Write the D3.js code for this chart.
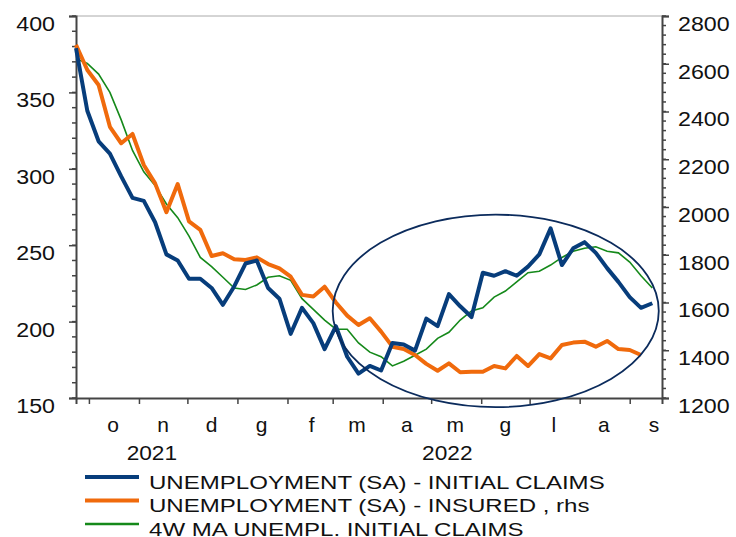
<!DOCTYPE html>
<html>
<head>
<meta charset="utf-8">
<script src="https://cdn.jsdelivr.net/npm/d3@7"></script>
<style>
  body { margin: 0; background: #fff; }
  svg text { font-family: "Liberation Sans", Arial, sans-serif; fill: #111; }
</style>
</head>
<body>
<svg id="chart" width="736" height="537"></svg>
<script>
// weekly observations, first week
const startDate = new Date(2021, 8, 23);

// initial claims (thousands, lhs)
const initialClaims = [379, 338, 318, 310, 295, 281, 279, 265, 244, 240,
  228, 228, 222, 211, 223, 238, 240, 222, 215, 192,
  209, 199, 182, 197, 177, 166, 171, 168, 186, 185,
  181, 202, 197, 218, 210, 203, 232, 230, 233, 230,
  236, 244, 261, 237, 248, 252, 245, 235, 226, 216,
  209, 212];

// insured unemployment (thousands, rhs)
const insured = [2679, 2574, 2511, 2336, 2267, 2306, 2176, 2099, 1978, 2096,
  1940, 1904, 1795, 1806, 1781, 1778, 1789, 1761, 1743, 1708,
  1632, 1625, 1666, 1600, 1545, 1506, 1534, 1478, 1415, 1405,
  1380, 1343, 1314, 1345, 1308, 1310, 1310, 1334, 1324, 1376,
  1334, 1384, 1366, 1422, 1432, 1436, 1415, 1439, 1405, 1401,
  1380];

// 4 week moving average of initial claims (lhs)
const ma4w = [372, 369, 362, 350, 332, 312, 298, 289, 277, 268,
  256, 242, 236, 229, 222, 221, 224, 229, 230, 227,
  215, 208, 201, 195, 195, 186, 180, 177, 171, 174,
  178, 182, 189, 193, 201, 207, 209, 216, 220, 226,
  232, 233, 237, 242, 246, 248, 249, 246, 245, 239,
  230, 222];

const monthLabels = ['o', 'n', 'd', 'g', 'f', 'm', 'a', 'm', 'g', 'l', 'a', 's'];
const yearLabels = [{ year: '2021', at: new Date(2021, 10, 9) }, { year: '2022', at: new Date(2022, 4, 11) }];
const leftTicks = [150, 200, 250, 300, 350, 400];
const rightTicks = [1200, 1400, 1600, 1800, 2000, 2200, 2400, 2600, 2800];

const seriesNames = [
  'UNEMPLOYMENT (SA) - INITIAL CLAIMS',
  'UNEMPLOYMENT (SA) - INSURED , rhs',
  '4W MA UNEMPL. INITIAL CLAIMS'
];

// highlighted area (date / lhs value units)
const highlight = { center: new Date(2022, 5, 10), days: 101, value: 207, spread: 63 };

const svg = d3.select('#chart');

const plotLeft = 76, plotRight = 662, plotTop = 16, plotBottom = 398;
const blue = '#073d7b', orange = '#f06a0c', green = '#15891a', axisColor = '#444';

const x = d3.scaleTime()
  .domain([startDate, new Date(2022, 8, 21)])
  .range([plotLeft, plotRight]);
const yL = d3.scaleLinear().domain([150, 400]).range([plotBottom, plotTop]);
const yR = d3.scaleLinear().domain([1200, 2800]).range([plotBottom, plotTop]);

const dateAt = i => d3.timeDay.offset(startDate, 7 * i);

// the source renders its text a bit wider than the font's own width
function stretch(sel, factor) {
  sel.each(function() {
    const w = this.getComputedTextLength();
    d3.select(this).attr('textLength', w * factor).attr('lengthAdjust', 'spacingAndGlyphs');
  });
}

// top frame
svg.append('line')
  .attr('x1', plotLeft).attr('x2', plotRight).attr('y1', plotTop).attr('y2', plotTop)
  .attr('stroke', '#aaa').attr('stroke-width', 1);

// left axis
const leftMinor = d3.range(150, 401, 10);
const gL = svg.append('g').attr('transform', `translate(${plotLeft},0)`);
gL.selectAll('line.minor').data(leftMinor).join('line')
  .attr('x1', -4).attr('x2', 0)
  .attr('y1', d => yL(d)).attr('y2', d => yL(d))
  .attr('stroke', axisColor).attr('stroke-width', 1.5);
gL.call(d3.axisLeft(yL).tickValues(leftTicks).tickSize(7).tickPadding(14))
  .call(g => g.select('.domain').attr('stroke', axisColor).attr('stroke-width', 2))
  .call(g => g.selectAll('.tick line').attr('stroke', axisColor).attr('stroke-width', 1.5))
  .call(g => g.selectAll('.tick text').attr('font-size', 20).attr('fill', '#111').attr('dy', '0.72em')
    .attr('font-family', '"Liberation Sans", Arial, sans-serif').call(stretch, 1.16));

// right axis
const rightMinor = d3.range(1200, 2801, 40);
const gR = svg.append('g').attr('transform', `translate(${plotRight},0)`);
gR.selectAll('line.minor').data(rightMinor).join('line')
  .attr('x1', 0).attr('x2', 4)
  .attr('y1', d => yR(d)).attr('y2', d => yR(d))
  .attr('stroke', axisColor).attr('stroke-width', 1.5);
gR.call(d3.axisRight(yR).tickValues(rightTicks).tickSize(7).tickPadding(9).tickFormat(d3.format('d')))
  .call(g => g.select('.domain').attr('stroke', axisColor).attr('stroke-width', 2))
  .call(g => g.selectAll('.tick line').attr('stroke', axisColor).attr('stroke-width', 1.5))
  .call(g => g.selectAll('.tick text').attr('font-size', 20).attr('fill', '#111').attr('dy', '0.72em')
    .attr('font-family', '"Liberation Sans", Arial, sans-serif').call(stretch, 1.16));

// bottom axis
const monthStarts = d3.timeMonth.range(new Date(2021, 9, 1), new Date(2022, 8, 2));
const gB = svg.append('g').attr('transform', `translate(0,${plotBottom})`);
gB.call(d3.axisBottom(x).tickValues(monthStarts).tickSize(6).tickFormat(''))
  .call(g => g.select('.domain').attr('stroke', axisColor).attr('stroke-width', 2))
  .call(g => g.selectAll('.tick line').attr('stroke', axisColor).attr('stroke-width', 1.5));

monthStarts.forEach((m, i) => {
  const mid = new Date(m.getFullYear(), m.getMonth(), 16);
  svg.append('text')
    .attr('x', x(mid)).attr('y', 432)
    .attr('text-anchor', 'middle').attr('font-size', 21)
    .text(monthLabels[i]);
});
yearLabels.forEach(d => {
  svg.append('text')
    .attr('x', x(d.at)).attr('y', 460)
    .attr('text-anchor', 'middle').attr('font-size', 21)
    .text(d.year)
    .call(stretch, 1.08);
});

// series
const lineL = d3.line().x((d, i) => x(dateAt(i))).y(d => yL(d));
const lineR = d3.line().x((d, i) => x(dateAt(i))).y(d => yR(d));

svg.append('path').datum(ma4w).attr('d', lineL)
  .attr('fill', 'none').attr('stroke', green).attr('stroke-width', 1.6);
svg.append('path').datum(insured).attr('d', lineR)
  .attr('fill', 'none').attr('stroke', orange).attr('stroke-width', 4).attr('stroke-linejoin', 'round');
svg.append('path').datum(initialClaims).attr('d', lineL)
  .attr('fill', 'none').attr('stroke', blue).attr('stroke-width', 4).attr('stroke-linejoin', 'round');

// ellipse annotation
const cx = x(highlight.center);
svg.append('ellipse')
  .attr('cx', cx).attr('cy', yL(highlight.value))
  .attr('rx', x(d3.timeDay.offset(highlight.center, highlight.days)) - cx)
  .attr('ry', yL(highlight.value - highlight.spread) - yL(highlight.value))
  .attr('fill', 'none').attr('stroke', '#0b2b5c').attr('stroke-width', 1.8);

// legend
const legendColors = [blue, orange, green];
const legendWidths = [4, 4, 2.5];
seriesNames.forEach((name, i) => {
  const ly = 477 + i * 23.5;
  svg.append('line')
    .attr('x1', 85).attr('x2', 139).attr('y1', ly).attr('y2', ly)
    .attr('stroke', legendColors[i]).attr('stroke-width', legendWidths[i]);
  svg.append('text')
    .attr('x', 149).attr('y', ly + 11.5)
    .attr('font-size', 18.5)
    .text(name)
    .call(stretch, 1.3);
});
</script>
</body>
</html>
